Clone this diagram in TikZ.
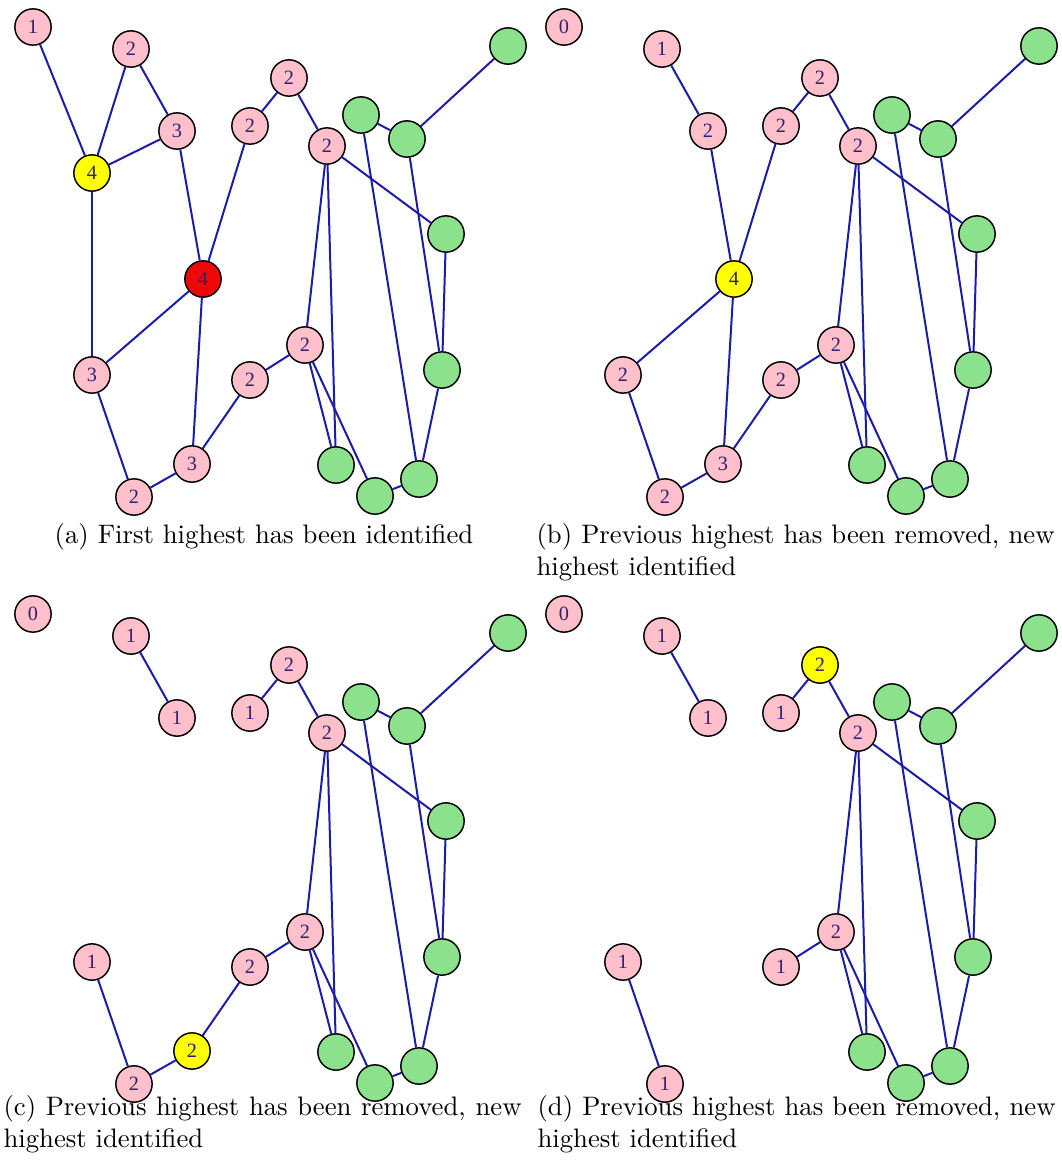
\documentclass[tikz,border=0pt]{standalone}
\usepackage{fontspec}
\newfontfamily\labelfont{Liberation Serif}
\usetikzlibrary{positioning}

\definecolor{nodepink}{RGB}{255,192,203}
\definecolor{nodegreen}{RGB}{140,226,140}
\definecolor{nodeyellow}{RGB}{255,255,0}
\definecolor{nodered}{RGB}{240,8,8}
\definecolor{edgeblue}{RGB}{28,28,170}
\definecolor{labelblue}{RGB}{50,32,110}

% green part, identical in all four stages
\newcommand{\greencluster}{%
    \node[gnode] (g1) at (361,115) {};
    \node[gnode] (g2) at (407,139) {};
    \node[gnode] (g3) at (508,46) {};
    \node[gnode] (g4) at (446,234) {};
    \node[gnode] (g5) at (442,370) {};
    \node[gnode] (g6) at (336,465) {};
    \node[gnode] (g7) at (375,496) {};
    \node[gnode] (g8) at (419,479) {};
    \foreach \u/\v in {g1/g2, g1/g8, g2/g3, g2/g5, g4/g5, g5/g8, g7/g8}
        \draw[edge] (\u) -- (\v);
}

\begin{document}
\begin{tikzpicture}[
    x=0.3745pt, y=-0.3745pt, % one unit = one pixel of the figure
    vertex/.style={circle, draw=black, line width=0.55pt, minimum size=13.6pt, inner sep=0pt,
        font=\labelfont\fontsize{7.6}{8}\selectfont, text=labelblue},
    pnode/.style={vertex, fill=nodepink},
    gnode/.style={vertex, fill=nodegreen},
    ynode/.style={vertex, fill=nodeyellow},
    rnode/.style={vertex, fill=nodered},
    edge/.style={edgeblue, line width=0.75pt},
    caption/.style={text width=194pt, align=justify, inner sep=0pt, anchor=north west}
]
\useasboundingbox (0,0) rectangle (1061,1166);

% (a) first highest
\begin{scope}[name prefix=a-]
    \greencluster
    \node[pnode] (p1) at (33,27) {1};
    \node[pnode] (p2) at (131,49) {2};
    \node[pnode] (p3) at (177,131) {3};
    \node[ynode] (p4) at (92,173) {4};
    \node[rnode] (p5) at (203,279) {4};
    \node[pnode] (p6) at (92,375) {3};
    \node[pnode] (p7) at (192,464) {3};
    \node[pnode] (p8) at (134,497) {2};
    \node[pnode] (p9) at (250,380) {2};
    \node[pnode] (p10) at (305,345) {2};
    \node[pnode] (p11) at (250,126) {2};
    \node[pnode] (p12) at (289,78) {2};
    \node[pnode] (p13) at (327,146) {2};
    \foreach \u/\v in {p1/p4, p2/p4, p2/p3, p3/p4, p3/p5, p4/p6, p5/p11, p5/p6, p5/p7,
        p6/p8, p8/p7, p7/p9, p9/p10, p11/p12, p12/p13, p13/p10,
        p13/g6, p13/g4, p10/g6, p10/g7}
        \draw[edge] (\u) -- (\v);
\end{scope}

% (b) yellow one removed
\begin{scope}[shift={(531,0)}, name prefix=b-]
    \greencluster
    \node[pnode] (p1) at (33,27) {0};
    \node[pnode] (p2) at (131,49) {1};
    \node[pnode] (p3) at (177,131) {2};
    \node[ynode] (p5) at (203,279) {4};
    \node[pnode] (p6) at (92,375) {2};
    \node[pnode] (p7) at (192,464) {3};
    \node[pnode] (p8) at (134,497) {2};
    \node[pnode] (p9) at (250,380) {2};
    \node[pnode] (p10) at (305,345) {2};
    \node[pnode] (p11) at (250,126) {2};
    \node[pnode] (p12) at (289,78) {2};
    \node[pnode] (p13) at (327,146) {2};
    \foreach \u/\v in {p2/p3, p3/p5, p5/p11, p5/p6, p5/p7,
        p6/p8, p8/p7, p7/p9, p9/p10, p11/p12, p12/p13, p13/p10,
        p13/g6, p13/g4, p10/g6, p10/g7}
        \draw[edge] (\u) -- (\v);
\end{scope}

% (c)
\begin{scope}[shift={(0,587)}, name prefix=c-]
    \greencluster
    \node[pnode] (p1) at (33,27) {0};
    \node[pnode] (p2) at (131,49) {1};
    \node[pnode] (p3) at (177,131) {1};
    \node[pnode] (p6) at (92,375) {1};
    \node[ynode] (p7) at (192,464) {2};
    \node[pnode] (p8) at (134,497) {2};
    \node[pnode] (p9) at (250,380) {2};
    \node[pnode] (p10) at (305,345) {2};
    \node[pnode] (p11) at (250,126) {1};
    \node[pnode] (p12) at (289,78) {2};
    \node[pnode] (p13) at (327,146) {2};
    \foreach \u/\v in {p2/p3, p6/p8, p8/p7, p7/p9, p9/p10, p11/p12, p12/p13, p13/p10,
        p13/g6, p13/g4, p10/g6, p10/g7}
        \draw[edge] (\u) -- (\v);
\end{scope}

% (d)
\begin{scope}[shift={(531,587)}, name prefix=d-]
    \greencluster
    \node[pnode] (p1) at (33,27) {0};
    \node[pnode] (p2) at (131,49) {1};
    \node[pnode] (p3) at (177,131) {1};
    \node[pnode] (p6) at (92,375) {1};
    \node[pnode] (p8) at (134,497) {1};
    \node[pnode] (p9) at (250,380) {1};
    \node[pnode] (p10) at (305,345) {2};
    \node[pnode] (p11) at (250,126) {1};
    \node[ynode] (p12) at (289,78) {2};
    \node[pnode] (p13) at (327,146) {2};
    \foreach \u/\v in {p2/p3, p6/p8, p9/p10, p11/p12, p12/p13, p13/p10,
        p13/g6, p13/g4, p10/g6, p10/g7}
        \draw[edge] (\u) -- (\v);
\end{scope}

% captions
\node[inner sep=0pt, anchor=north] (capa) at (264,523) {(a) First highest has been identified};
\node[caption] (capb) at (536,523) {(b) Previous highest has been removed, new highest identified};
\node[caption] (capc) at (3,1095) {(c) Previous highest has been removed, new highest identified};
\node[caption] (capd) at (537,1095) {(d) Previous highest has been removed, new highest identified};

\end{tikzpicture}
\end{document}
